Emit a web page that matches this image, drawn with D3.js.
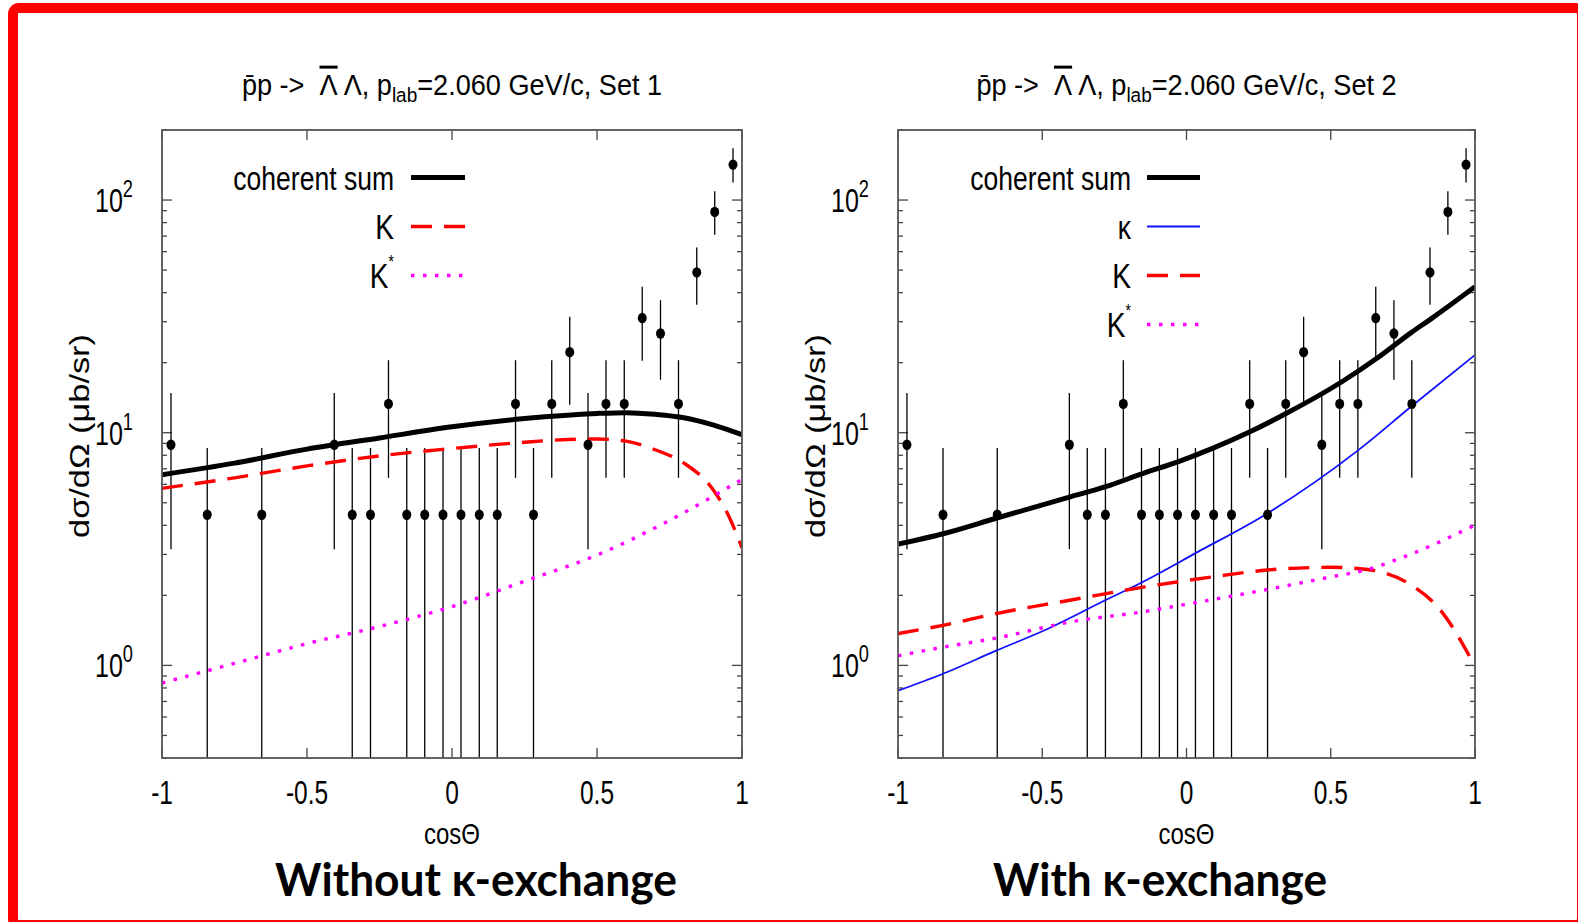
<!DOCTYPE html>
<html><head><meta charset="utf-8">
<script src="https://cdn.jsdelivr.net/npm/d3@7"></script>
<style>body{margin:0;background:#fff} text{white-space:pre}</style>
</head><body>
<svg id="c" width="1578" height="922"></svg>
<script>
// ---------- data ----------
const cosTheta = [-0.969,-0.844,-0.656,-0.406,-0.344,-0.281,-0.219,-0.156,-0.094,-0.031,0.031,0.094,0.156,0.219,0.281,0.344,0.406,0.469,0.531,0.594,0.656,0.719,0.781,0.844,0.906,0.969];
const sigma    = [8.88,4.44,4.44,8.88,4.44,4.44,13.3,4.44,4.44,4.44,4.44,4.44,4.44,13.3,4.44,13.3,22.2,8.88,13.3,13.3,31.1,26.7,13.3,48.9,88.9,142];
const errLow   = [3.16,0.3,0.3,3.16,0.3,0.3,6.4,0.3,0.3,0.3,0.3,0.3,0.3,6.4,0.3,6.4,13.2,3.16,6.4,6.4,20.4,16.9,6.4,35.5,71,119];
const errHigh  = [14.8,8.6,8.6,14.8,8.6,8.6,20.5,8.6,8.6,8.6,8.6,8.6,8.6,20.5,8.6,20.5,31.5,14.8,20.5,20.5,42.4,37.1,20.5,62.6,109,167];

// Set 1 (without kappa)
const set1CoherentX = [-1,-0.75,-0.5,-0.25,0,0.25,0.5,0.6,0.7,0.8,0.9,1];
const set1Coherent  = [6.6,7.4,8.5,9.5,10.6,11.5,12.1,12.2,12.0,11.6,10.8,9.8];
const set1KX = [-1,-0.75,-0.5,-0.25,0,0.25,0.4,0.5,0.6,0.7,0.8,0.9,0.95,1];
const set1K  = [5.77,6.4,7.2,7.95,8.55,9.1,9.35,9.4,9.2,8.45,7.4,5.7,4.5,3.2];
const set1KstarX = [-1,-0.75,-0.5,-0.25,0,0.25,0.5,0.75,1];
const set1Kstar  = [0.84,1.02,1.24,1.47,1.79,2.3,2.98,4.2,6.3];

// Set 2 (with kappa)
const set2CoherentX = [-1,-0.84,-0.66,-0.4,-0.28,-0.15,-0.03,0.09,0.22,0.34,0.54,0.66,0.78,0.85,1];
const set2Coherent  = [3.32,3.69,4.29,5.31,5.86,6.69,7.5,8.57,10.1,12.0,16.6,20.9,27.0,31.0,42.4];
const set2KappaX = [-1,-0.84,-0.66,-0.49,-0.28,-0.15,0.03,0.28,0.6,0.78,1];
const set2Kappa  = [0.778,0.925,1.157,1.42,1.91,2.29,3.03,4.5,8.5,13,21.6];
const set2KX = [-1,-0.84,-0.66,-0.4,-0.15,0.09,0.28,0.5,0.62,0.77,0.88,1];
const set2K  = [1.37,1.49,1.67,1.91,2.17,2.4,2.57,2.64,2.59,2.25,1.73,0.99];
const set2KstarX = [-1,-0.84,-0.66,-0.4,-0.15,0.03,0.28,0.5,0.62,0.77,1];
const set2Kstar  = [1.10,1.20,1.31,1.54,1.70,1.86,2.12,2.4,2.57,2.98,4.01];

const xTicks = [-1,-0.5,0,0.5,1];
const xTickLabels = ["-1","-0.5","0","0.5","1"];
const yMajorTicks = [1,10,100];
const yTickExponents = ["0","1","2"];
const xDomain = [-1,1];
const yDomain = [0.4,200];

// ---------- drawing ----------
const svg = d3.select('#c');
const FONT = "'Liberation Sans', Arial, sans-serif";

function label(parent, x, y, fs, anchor, build, opts={}) {
  const g = parent.append('g').attr('transform', `translate(${x},${y})` + (opts.rotate ? ` rotate(${opts.rotate})` : ''));
  const t = g.append('text').attr('font-size', fs).attr('text-anchor', anchor)
    .attr('font-family', opts.family || FONT).attr('font-weight', opts.weight || 'normal').attr('fill', '#000');
  if (typeof build === 'string') t.text(build); else build(t);
  let sx = opts.sx || 1;
  if (opts.w) { const bw = t.node().getBBox().width; sx = opts.w / bw; }
  if (sx !== 1) t.attr('transform', `scale(${sx},1)`);
  return t;
}

// red frame
svg.append('rect').attr('x', 13).attr('y', 8).attr('width', 1569).attr('height', 917).attr('rx', 6)
  .attr('fill', 'none').attr('stroke', '#ff0000').attr('stroke-width', 10);

const DASH = '21 12', DOT = '3.5 8.5';
const panels = [
  { x0: 162, x1: 742, set: '1', caption: 'Without \u03BA-exchange', capX: 476, capW: 402,
    curves: [
      { x: set1CoherentX, y: set1Coherent, color: '#000', width: 5, dash: null },
      { x: set1KX, y: set1K, color: '#ff0000', width: 3.4, dash: DASH },
      { x: set1KstarX, y: set1Kstar, color: '#ff00ff', width: 3.4, dash: DOT }
    ],
    legend: [
      { name: 'coherent sum', color: '#000', width: 5, dash: null },
      { name: 'K', color: '#ff0000', width: 3.4, dash: DASH },
      { name: 'K*', color: '#ff00ff', width: 3.4, dash: DOT }
    ], legTextX: 394, legLine: [411, 465] },
  { x0: 898, x1: 1475, set: '2', caption: 'With \u03BA-exchange', capX: 1160, capW: 334,
    curves: [
      { x: set2CoherentX, y: set2Coherent, color: '#000', width: 5, dash: null },
      { x: set2KappaX, y: set2Kappa, color: '#1010ff', width: 1.8, dash: null },
      { x: set2KX, y: set2K, color: '#ff0000', width: 3.4, dash: DASH },
      { x: set2KstarX, y: set2Kstar, color: '#ff00ff', width: 3.4, dash: DOT }
    ],
    legend: [
      { name: 'coherent sum', color: '#000', width: 5, dash: null },
      { name: '\u03BA', color: '#1010ff', width: 1.8, dash: null },
      { name: 'K', color: '#ff0000', width: 3.4, dash: DASH },
      { name: 'K*', color: '#ff00ff', width: 3.4, dash: DOT }
    ], legTextX: 1131, legLine: [1147, 1200] }
];
const Y0 = 130, Y1 = 758;

panels.forEach((p, pi) => {
  const x = d3.scaleLinear().domain(xDomain).range([p.x0, p.x1]);
  const y = d3.scaleLog().domain(yDomain).range([Y1, Y0]);
  const g = svg.append('g');
  const clipId = 'clip' + pi;
  svg.append('clipPath').attr('id', clipId).append('rect')
    .attr('x', p.x0).attr('y', Y0).attr('width', p.x1 - p.x0).attr('height', Y1 - Y0);

  // ticks
  const tk = g.append('g').attr('stroke', '#444').attr('stroke-width', 1.3);
  xTicks.forEach(v => {
    tk.append('line').attr('x1', x(v)).attr('x2', x(v)).attr('y1', Y1).attr('y2', Y1 - 10);
    tk.append('line').attr('x1', x(v)).attr('x2', x(v)).attr('y1', Y0).attr('y2', Y0 + 10);
  });
  y.ticks().forEach(v => {
    const major = yMajorTicks.includes(v);
    const L = major ? 10 : 5;
    tk.append('line').attr('x1', p.x0).attr('x2', p.x0 + L).attr('y1', y(v)).attr('y2', y(v));
    tk.append('line').attr('x1', p.x1).attr('x2', p.x1 - L).attr('y1', y(v)).attr('y2', y(v));
  });

  // data: error bars and points
  const dg = g.append('g').attr('clip-path', `url(#${clipId})`);
  cosTheta.forEach((c, i) => {
    dg.append('line').attr('x1', x(c)).attr('x2', x(c))
      .attr('y1', y(Math.max(errLow[i], 0.05))).attr('y2', y(errHigh[i]))
      .attr('stroke', '#000').attr('stroke-width', 1.3);
  });

  // curves
  p.curves.forEach(cv => {
    const pts = cv.x.map((xv, i) => [x(xv), y(cv.y[i])]);
    dg.append('path').attr('d', d3.line().curve(d3.curveMonotoneX)(pts))
      .attr('fill', 'none').attr('stroke', cv.color).attr('stroke-width', cv.width)
      .attr('stroke-dasharray', cv.dash);
  });

  cosTheta.forEach((c, i) => {
    dg.append('ellipse').attr('cx', x(c)).attr('cy', y(sigma[i])).attr('rx', 4.5).attr('ry', 5.2).attr('fill', '#000');
  });

  // frame
  g.append('rect').attr('x', p.x0).attr('y', Y0).attr('width', p.x1 - p.x0).attr('height', Y1 - Y0)
    .attr('fill', 'none').attr('stroke', '#555').attr('stroke-width', 1.8);

  // legend
  p.legend.forEach((lg, i) => {
    const ly = 177.5 + i * 49;
    g.append('line').attr('x1', p.legLine[0]).attr('x2', p.legLine[1]).attr('y1', ly).attr('y2', ly)
      .attr('stroke', lg.color).attr('stroke-width', lg.width).attr('stroke-dasharray', lg.dash);
    if (lg.name === 'K*') {
      label(g, p.legTextX, ly + 12, 36, 'end', t => {
        t.append('tspan').text('K');
        t.append('tspan').attr('font-size', 18).attr('dy', -20).text('*');
      }, { sx: 0.78 });
    } else if (lg.name === 'K') {
      label(g, p.legTextX, ly + 12, 36, 'end', lg.name, { sx: 0.78 });
    } else {
      label(g, p.legTextX, ly + 12, 34, 'end', lg.name, { sx: 0.78 });
    }
  });

  // tick labels
  xTicks.forEach((v, i) => label(g, x(v), 804, 34, 'middle', xTickLabels[i], { sx: 0.72 }));
  yMajorTicks.forEach((v, i) => label(g, p.x0 - 29, y(v) + 12, 33, 'end', t => {
    t.append('tspan').text('10');
    t.append('tspan').attr('font-size', 24).attr('dy', -15).text(yTickExponents[i]);
  }, { sx: 0.76 }));

  // axis titles
  label(g, (p.x0 + p.x1) / 2, 844, 30, 'middle', 'cos\u0398', { sx: 0.8 });
  label(g, p.x0 - 73, 436, 28, 'middle', 'd\u03C3/d\u03A9 (\u03BCb/sr)', { rotate: -90, w: 204 });

  // title
  label(g, (p.x0 + p.x1) / 2, 95, 30, 'middle', t => {
    t.append('tspan').text('p\u0304p ->  ');
    t.append('tspan').style('text-decoration', 'overline').text('\u039B');
    t.append('tspan').text(' \u039B, p');
    t.append('tspan').attr('font-size', 21).attr('dy', 7).text('lab');
    t.append('tspan').attr('dy', -7).text('=2.060 GeV/c, Set ' + p.set);
  }, { w: 419 });

  // caption
  label(g, p.capX, 896, 46, 'middle', p.caption, { family: "Lato, 'Open Sans', sans-serif", weight: 700, w: p.capW });
});
</script>
</body></html>
